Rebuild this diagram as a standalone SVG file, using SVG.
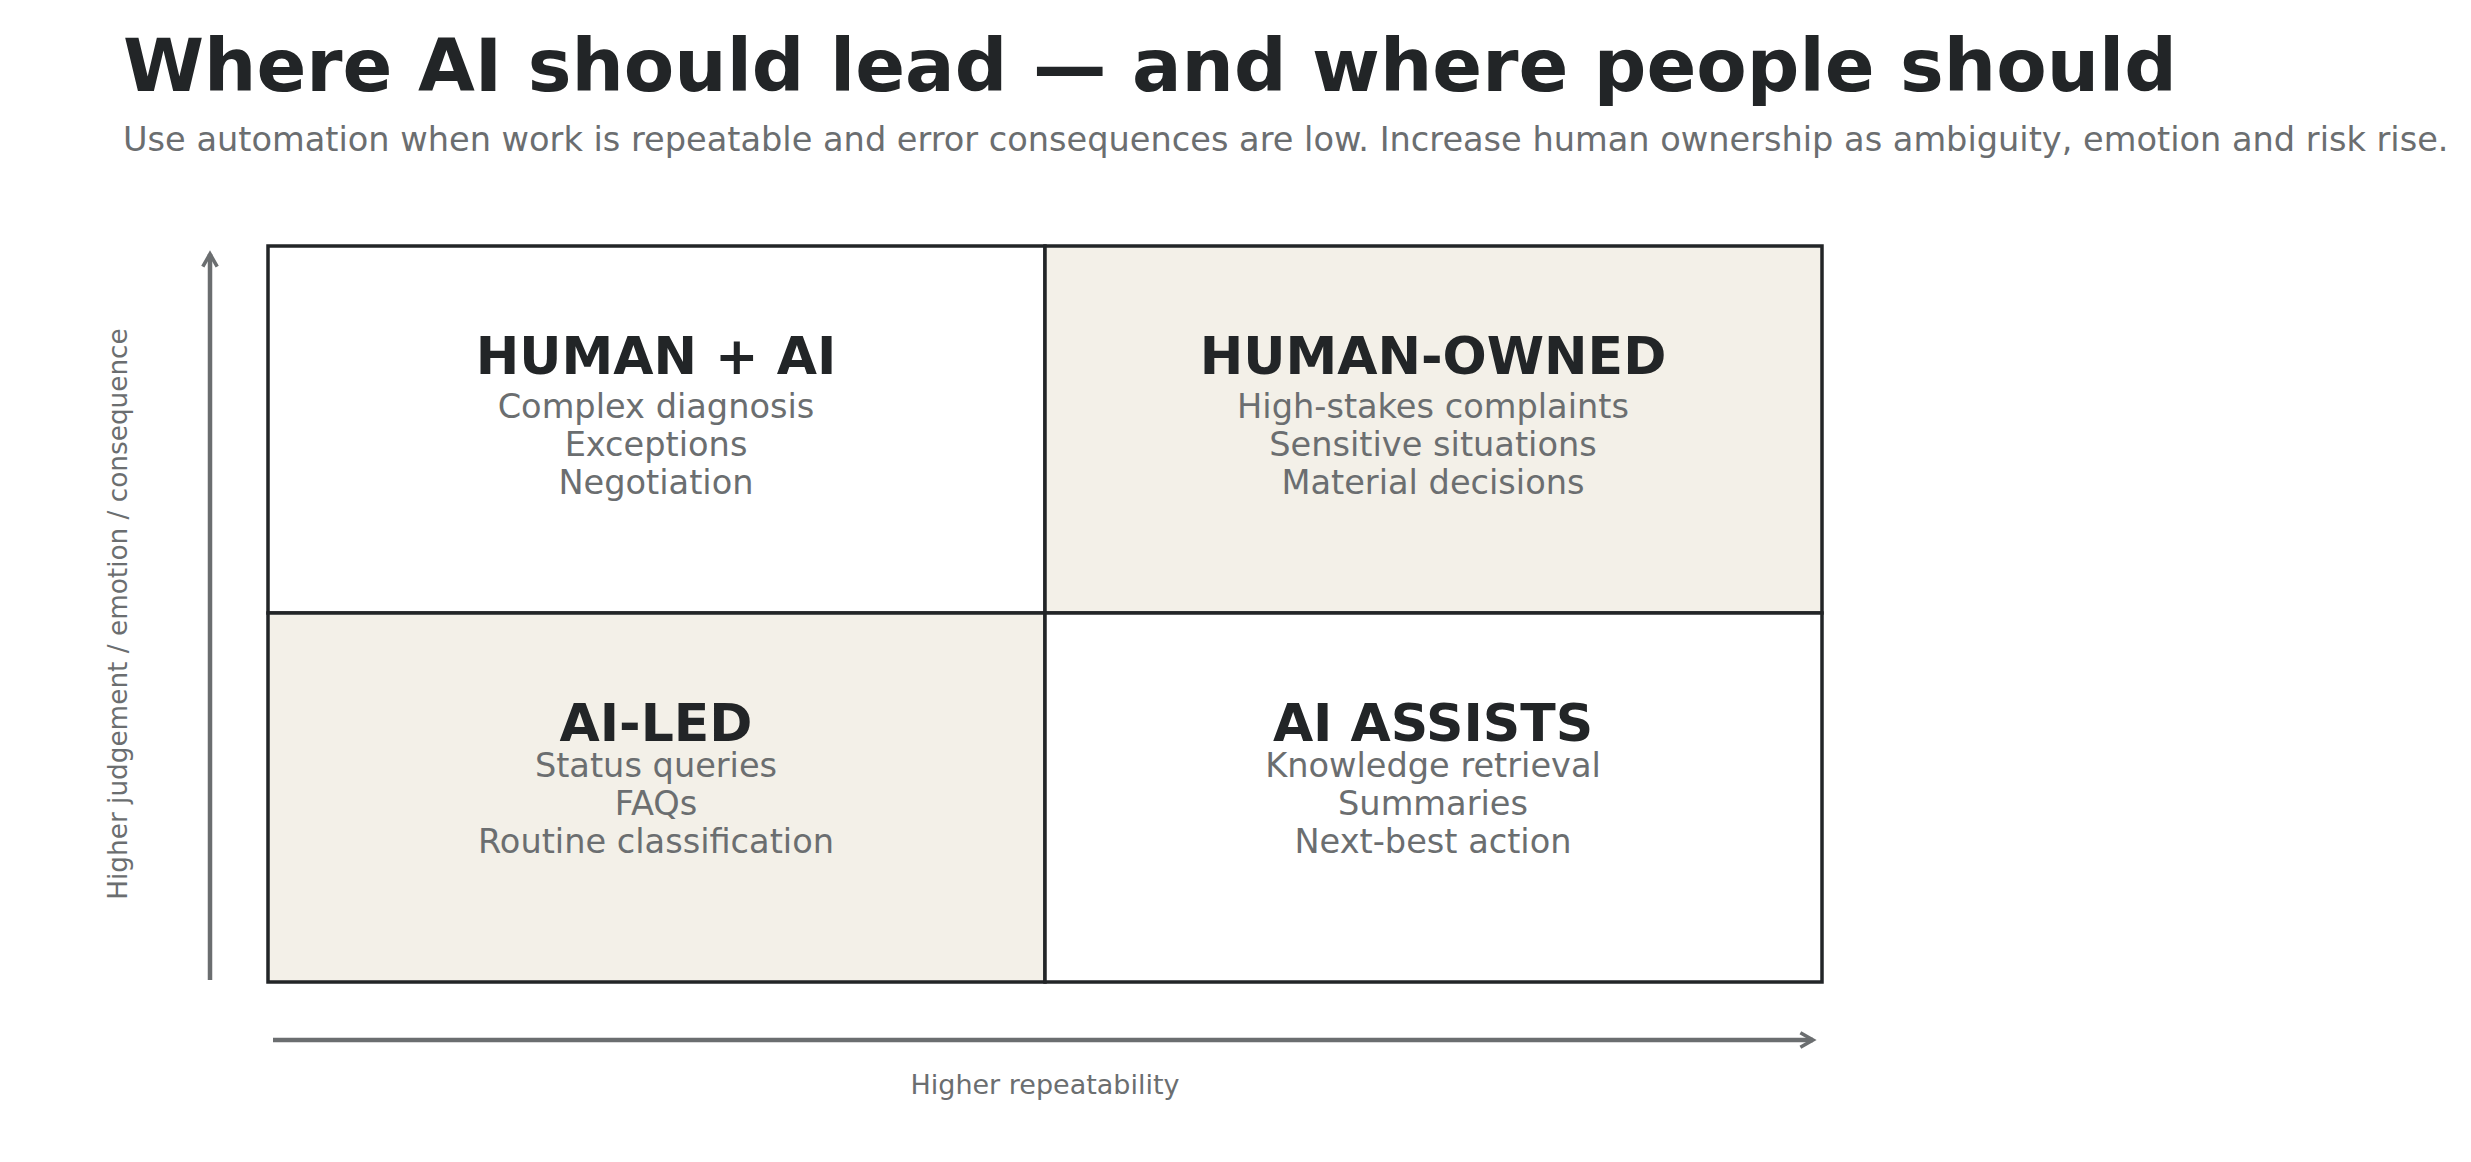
<svg xmlns="http://www.w3.org/2000/svg" width="2471" height="1162" viewBox="0 0 2471 1162">
<style>
text{font-family:"DejaVu Sans",sans-serif}
.t{font-size:73.5px;font-weight:bold;fill:#222527}
.s{font-size:33.6px;fill:#6b6e70}
.q{font-size:52px;font-weight:bold;fill:#222527;text-anchor:middle}
.i{font-size:33.6px;fill:#6b6e70;text-anchor:middle}
.a{font-size:27px;fill:#6b6e70;text-anchor:middle}
.ay{font-size:26.3px;fill:#6b6e70;text-anchor:middle}
.cell{stroke:#222527;stroke-width:3.5}
.ax{stroke:#6b6e70;stroke-width:4.5;fill:none}
</style>
<defs><marker id="ah" viewBox="0 0 10 10" refX="8" refY="5" markerWidth="4" markerHeight="4" orient="auto"><path d="M1,1 L8,5 L1,9" fill="none" stroke="#6b6e70" stroke-width="2"/></marker></defs>
<rect width="2471" height="1162" fill="#fff"/>
<text class="t" x="123" y="91">Where AI should lead — and where people should</text>
<text class="s" x="123" y="151">Use automation when work is repeatable and error consequences are low. Increase human ownership as ambiguity, emotion and risk rise.</text>
<g id="q-human-ai"><rect class="cell" x="268" y="246" width="777" height="367" fill="#fff"/><text class="q" x="656" y="374">HUMAN + AI</text><text class="i" x="656" y="418">Complex diagnosis</text><text class="i" x="656" y="456">Exceptions</text><text class="i" x="656" y="494">Negotiation</text></g>
<g id="q-human-owned"><rect class="cell" x="1045" y="246" width="777" height="367" fill="#f3f0e8"/><text class="q" x="1433" y="374">HUMAN-OWNED</text><text class="i" x="1433" y="418">High-stakes complaints</text><text class="i" x="1433" y="456">Sensitive situations</text><text class="i" x="1433" y="494">Material decisions</text></g>
<g id="q-ai-led"><rect class="cell" x="268" y="613" width="777" height="369" fill="#f3f0e8"/><text class="q" x="656" y="741">AI-LED</text><text class="i" x="656" y="777">Status queries</text><text class="i" x="656" y="815">FAQs</text><text class="i" x="656" y="853">Routine classification</text></g>
<g id="q-ai-assists"><rect class="cell" x="1045" y="613" width="777" height="369" fill="#fff"/><text class="q" x="1433" y="741">AI ASSISTS</text><text class="i" x="1433" y="777">Knowledge retrieval</text><text class="i" x="1433" y="815">Summaries</text><text class="i" x="1433" y="853">Next-best action</text></g>
<g id="axes">
<line class="ax" x1="210" y1="980" x2="210" y2="254" marker-end="url(#ah)"/>
<line class="ax" x1="273" y1="1040" x2="1813" y2="1040" marker-end="url(#ah)"/>
</g>
<text class="a" x="1045" y="1094">Higher repeatability</text>
<text class="ay" transform="translate(127,614) rotate(-90)">Higher judgement / emotion / consequence</text>
</svg>
